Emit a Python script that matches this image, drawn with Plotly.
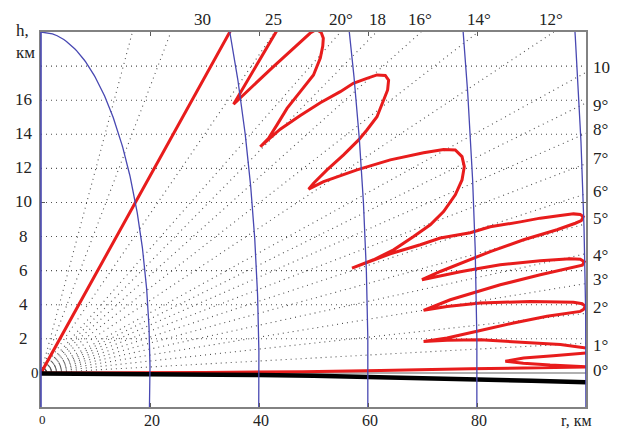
import numpy as np
import plotly.graph_objects as go

# ---------------- data (km) ----------------
ring_radii = [20, 40, 60, 80, 100]
ray_angles = [1, 2, 3, 4, 5, 6, 7, 8, 9, 10, 12, 14, 16, 18, 20, 25, 30, 40, 50]
height_grid = [2, 4, 6, 8, 10, 12, 14, 16, 18]

earth_r = [0, 10, 20, 30, 40, 50, 60, 70, 80, 90, 100]
earth_h = [-0.03, -0.04, -0.055, -0.085, -0.125, -0.17, -0.23, -0.3, -0.38, -0.46, -0.55]

# coverage-diagram lobes, traced from the 30 deg edge downward
cut30_r = [0, 34.55, 36.37]
cut30_h = [0, 20, 21]
lobeA_r = [46.8, 43.0, 39.2, 35.34]
lobeA_h = [22.0, 19.94, 17.85, 15.76]
lobeB_r = [42.4, 49.4, 50.5, 51.4, 51.8, 51.7, 51.25, 50.7, 50.0, 47.58, 45.14, 43.3, 41.76, 40.24]
lobeB_h = [17.9, 19.94, 20.15, 19.98, 19.64, 19.17, 18.47, 18.0, 17.48, 16.5, 15.52, 14.55, 13.77, 13.27]
lobeC_r = [43.9, 47.58, 51.25, 54.92, 57.3, 59.8, 61.65, 63.17, 63.78, 63.6, 62.86, 61.65, 59.8, 58.28,
           55.52, 52.48, 50.02, 49.1]
lobeC_h = [14.3, 15.1, 15.85, 16.5, 16.99, 17.28, 17.48, 17.45, 17.18, 16.6, 16.02, 15.03, 14.25, 13.67,
           12.79, 11.91, 11.13, 10.78]
lobeD_r = [51.85, 57.98, 64.09, 70.2, 73.87, 76.02, 77.25, 77.67, 77.25, 76.02, 73.87, 71.43, 68.37, 64.7,
           61.03, 57.06]
lobeD_h = [11.22, 11.91, 12.5, 12.92, 13.11, 13.08, 12.69, 12.1, 11.32, 10.45, 9.47, 8.69, 8.0, 7.22,
           6.64, 6.15]
lobeE_r = [59.5, 64.09, 69.6, 73.27, 78.77, 82.44, 87.94, 91.61, 95.28, 97.72, 98.95, 99.5, 99.14, 98.04,
           94.68, 88.55, 82.44, 76.94, 73.27, 69.9]
lobeE_h = [6.46, 6.99, 7.52, 7.91, 8.22, 8.57, 8.86, 9.08, 9.24, 9.33, 9.3, 9.16, 8.93, 8.78,
           8.4, 7.81, 7.12, 6.44, 5.95, 5.47]
lobeF_r = [73.27, 76.94, 80.0, 84.27, 91.61, 97.1, 98.95, 99.69, 99.32, 97.1, 91.61, 84.27, 80.0, 75.1,
           72.35, 70.2]
lobeF_h = [5.7, 5.93, 6.11, 6.34, 6.58, 6.7, 6.67, 6.52, 6.32, 6.17, 5.76, 5.17, 4.76, 4.29, 3.94, 3.67]
lobeG_r = [74.5, 80.6, 89.8, 97.7, 99.3, 99.87, 99.5, 98.95, 92.84, 86.7, 80.0, 74.5, 70.2]
lobeG_h = [3.9, 4.1, 4.19, 4.14, 4.06, 3.9, 3.71, 3.61, 3.32, 2.93, 2.44, 2.05, 1.85]
lobeH_r = [74.5, 80.6, 89.8, 95.3, 100.05, 102, 102, 100.2, 94.0, 88.55, 85.2]
lobeH_h = [1.91, 1.95, 1.79, 1.66, 1.46, 1.38, 1.16, 1.17, 1.0, 0.88, 0.68]
lobeI_r = [88.5, 93.4, 100.2, 102, 102, 100.2, 85.5, 78.8, 62.3, 48, 30, 0]
lobeI_h = [0.57, 0.46, 0.4, 0.39, 0.34, 0.34, 0.29, 0.25, 0.14, 0.07, 0.03, 0]

left_labels = ["2", "4", "6", "8", "10", "12", "14", "16"]
left_label_h = [2, 4, 6, 8, 10, 12, 14, 16]
bottom_labels = ["20", "40", "60", "80"]
bottom_label_r = [20, 40, 60, 80]
top_labels = ["30", "25", "20°", "18", "16°", "14°", "12°"]
top_label_r = [29.6, 42.7, 55.1, 61.7, 69.6, 80.4, 93.6]
right_labels = ["10", "9°", "8°", "7°", "6°", "5°", "4°", "3°", "2°", "1°", "0°"]
right_label_h = [17.89, 15.64, 14.21, 12.51, 10.57, 8.99, 6.84, 5.41, 3.81, 1.56, 0.09]

XMAX, YMIN, YMAX = 100, -2, 20
FONT = '"Liberation Serif", "Times New Roman", serif'
RED = "rgb(232,28,28)"
BLUE = "rgb(72,72,178)"
DOT = "rgb(80,80,80)"

fig = go.Figure()

# dotted elevation rays
rx, ry = [], []
for a in ray_angles:
    t = np.tan(np.radians(a))
    r_end = min(XMAX, YMAX / t)
    rx += [0, r_end, None]
    ry += [0, r_end * t, None]
fig.add_trace(go.Scatter(x=rx, y=ry, mode="lines", hoverinfo="skip",
                         line=dict(color=DOT, width=1.1, dash="1px,4px")))

# dotted height lines
gx, gy = [], []
for hh in height_grid:
    gx += [0, XMAX, None]
    gy += [hh, hh, None]
fig.add_trace(go.Scatter(x=gx, y=gy, mode="lines", hoverinfo="skip",
                         line=dict(color=DOT, width=1.1, dash="1px,4px")))

# zero line (0 deg ray)
fig.add_trace(go.Scatter(x=[0, XMAX], y=[0, 0], mode="lines", hoverinfo="skip",
                         line=dict(color="rgb(150,150,150)", width=1.5)))

# red coverage curve
lob_r = (cut30_r + lobeA_r + lobeB_r + lobeC_r + lobeD_r + lobeE_r + lobeF_r + lobeG_r
         + lobeH_r + lobeI_r)
lob_h = (cut30_h + lobeA_h + lobeB_h + lobeC_h + lobeD_h + lobeE_h + lobeF_h + lobeG_h
         + lobeH_h + lobeI_h)
fig.add_trace(go.Scatter(x=lob_r, y=lob_h, mode="lines", hoverinfo="skip",
                         line=dict(color=RED, width=3)))

# earth surface
fig.add_trace(go.Scatter(x=earth_r, y=earth_h, mode="lines", hoverinfo="skip",
                         line=dict(color="black", width=4.5)))

# range rings
hs = np.linspace(YMIN, YMAX, 200)
for R in ring_radii:
    xs = np.sqrt(np.clip(R ** 2 - hs ** 2, 0, None))
    fig.add_trace(go.Scatter(x=xs, y=hs, mode="lines", hoverinfo="skip",
                             line=dict(color=BLUE, width=1.3)))

def PX(r):
    return r / XMAX

def PY(h):
    return (h - YMIN) / (YMAX - YMIN)

ann = []
def A(text, r, h, size=17, xa="center", ya="middle"):
    ann.append(dict(text=text, x=PX(r), y=PY(h), xref="paper", yref="paper", showarrow=False,
                    xanchor=xa, yanchor=ya, font=dict(family=FONT, size=size, color="#222")))

for t, hv in zip(left_labels, left_label_h):
    A(t, -3.2, hv + 0.03)
A("0", -1.05, 0.0, size=15)
A("h,", -4.9, 20.1, xa="left")
A("км", -5.0, 18.8, xa="left")
for t, rv in zip(bottom_labels, bottom_label_r):
    A(t, rv + 0.4, -2.2, size=16, ya="top")
A("0", 0.2, -2.2, size=13, ya="top")
A("r, км", 98.2, -2.2, size=16, ya="top")
for t, rv in zip(top_labels, top_label_r):
    A(t, rv, 20.72)
for t, hv in zip(right_labels, right_label_h):
    A(t, 100.9, hv + 0.05, xa="left")

# the page adds an 8 px body margin, so the figure is 8 px smaller and margins shifted
fig.update_layout(
    width=613, height=421,
    margin=dict(l=33, r=35, t=24, b=22),
    paper_bgcolor="white", plot_bgcolor="white",
    showlegend=False,
    annotations=ann,
    shapes=[dict(type="line", xref="paper", yref="paper", x0=0, x1=0, y0=0, y1=1,
                 line=dict(color=BLUE, width=1.6), layer="above")],
)
fig.update_xaxes(range=[0, XMAX], showgrid=False, zeroline=False, showticklabels=False,
                 showline=True, linecolor="rgb(130,130,130)", linewidth=1.6, mirror="ticks",
                 ticks="inside", ticklen=4, tickcolor="rgb(90,90,90)",
                 tickvals=[0, 20, 40, 60, 80])
fig.update_yaxes(range=[YMIN, YMAX], showgrid=False, zeroline=False, showticklabels=False,
                 showline=True, linecolor="rgb(130,130,130)", linewidth=1.6, mirror="ticks",
                 ticks="inside", ticklen=4, tickcolor="rgb(90,90,90)",
                 tickvals=[10])

fig.write_html("out.html")
